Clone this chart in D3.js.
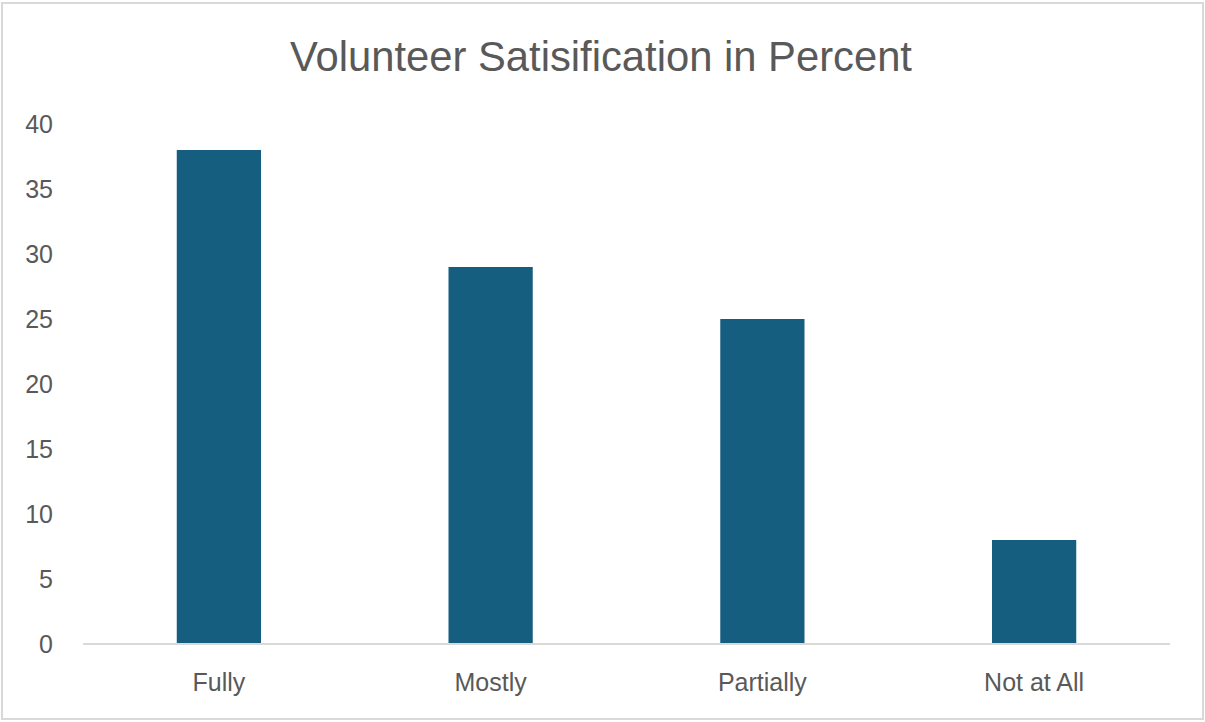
<!DOCTYPE html>
<html>
<head>
<meta charset="utf-8">
<script src="https://cdn.jsdelivr.net/npm/d3@7"></script>
<style>
html,body{margin:0;padding:0;background:#fff;}
svg{display:block;}
</style>
</head>
<body>
<svg id="chart" width="1205" height="722"></svg>
<script>
const categories = ["Fully", "Mostly", "Partially", "Not at All"];
const values = [38, 29, 25, 8];
const yTicks = [0, 5, 10, 15, 20, 25, 30, 35, 40];
const title = "Volunteer Satisification in Percent";

const W = 1205, H = 722;
const svg = d3.select("#chart");
const font = "'Liberation Sans', Arial, sans-serif";
const textColor = "#595959";

// frame
svg.append("rect").attr("x", 2).attr("y", 3).attr("width", W - 4).attr("height", H - 6)
  .attr("fill", "#fff").attr("stroke", "#d9d9d9").attr("stroke-width", 2);

const plot = {left: 83, right: 1170, top: 124, bottom: 644};

const x = d3.scaleBand().domain(categories).range([plot.left, plot.right])
  .paddingInner(0.69).paddingOuter(0.345);
const y = d3.scaleLinear().domain([0, 40]).range([plot.bottom, plot.top]);

// title
const t = svg.append("text").attr("x", 601).attr("y", 71)
  .attr("text-anchor", "middle").attr("font-family", font).attr("font-size", 36)
  .attr("fill", textColor).text(title);
const tw = t.node().getComputedTextLength();
t.attr("font-size", 36 * 622 / tw);

// y axis labels
const yAxis = d3.axisLeft(y).tickValues(yTicks).tickSize(0).tickPadding(0);
const gy = svg.append("g").attr("transform", `translate(53,0)`).call(yAxis);
gy.select(".domain").remove();
gy.selectAll("text").attr("font-family", font).attr("font-size", 25).attr("fill", textColor).attr("dy", "0.35em");

// bars
svg.append("g").selectAll("rect").data(values).join("rect")
  .attr("x", (d, i) => x(categories[i]))
  .attr("width", x.bandwidth())
  .attr("y", d => y(d))
  .attr("height", d => y(0) - y(d))
  .attr("fill", "#165e80");

// x axis
const xAxis = d3.axisBottom(x).tickSize(0).tickPadding(0);
const gx = svg.append("g").attr("transform", `translate(0,${plot.bottom})`).call(xAxis);
gx.select(".domain").remove();
gx.append("line").attr("x1", plot.left).attr("x2", plot.right).attr("y1", 0).attr("y2", 0)
  .attr("stroke", "#d9d9d9").attr("stroke-width", 2);
gx.selectAll(".tick text").attr("font-family", font).attr("font-size", 25).attr("fill", textColor)
  .attr("dy", 0).attr("y", 47);
</script>
</body>
</html>
